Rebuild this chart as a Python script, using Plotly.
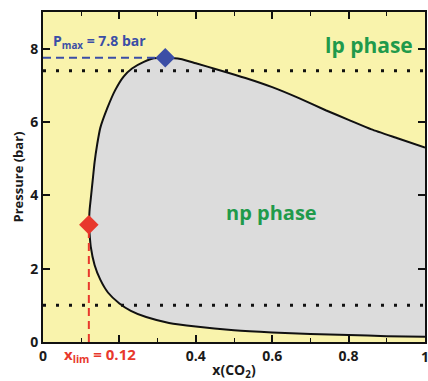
import plotly.graph_objects as go

# Phase boundary, upper branch (left limit -> peak -> right edge)
upper_x = [0.12, 0.122, 0.126, 0.13, 0.135, 0.142, 0.150, 0.168, 0.189, 0.211, 0.233, 0.264, 0.29, 0.32,
           0.36, 0.40, 0.46, 0.53, 0.60, 0.67, 0.74, 0.80, 0.86, 0.93, 1.0]
upper_P = [3.2, 3.6, 4.0, 4.4, 4.9, 5.4, 5.84, 6.37, 6.87, 7.24, 7.46, 7.64, 7.74, 7.75,
           7.72, 7.6, 7.42, 7.2, 6.95, 6.65, 6.32, 6.06, 5.8, 5.55, 5.3]
# lower branch (left limit -> right edge)
lower_x = [0.12, 0.125, 0.135, 0.15, 0.17, 0.2, 0.23, 0.27, 0.33, 0.4, 0.5, 0.6, 0.7, 0.8, 0.9, 1.0]
lower_P = [3.2, 2.6, 2.1, 1.7, 1.35, 1.05, 0.85, 0.68, 0.52, 0.42, 0.32, 0.26, 0.22, 0.19, 0.16, 0.14]

P_max_x, P_max = 0.32, 7.75
x_lim, P_lim = 0.12, 3.2
dotted_levels = [7.4, 1.0]

x_tickvals = [0, 0.2, 0.4, 0.6, 0.8, 1]
x_ticktext = ["0", "", "0.4", "0.6", "0.8", "1"]
y_tickvals = [0, 2, 4, 6, 8]

YELLOW = "#F9F3AC"
GRAY = "#DCDCDC"
GREEN = "#1F9A4B"
BLUE = "#3B4EA6"
RED = "#E8382C"
FONT = "Open Sans"

fig = go.Figure()

fig.add_trace(go.Scatter(
    x=lower_x, y=lower_P, mode="lines",
    line=dict(color="#111111", width=2, shape="spline", smoothing=0.5),
    hoverinfo="skip", showlegend=False))
fig.add_trace(go.Scatter(
    x=upper_x, y=upper_P, mode="lines", fill="tonexty", fillcolor=GRAY,
    line=dict(color="#111111", width=2, shape="spline", smoothing=0.5),
    hoverinfo="skip", showlegend=False))

for lv in dotted_levels:
    fig.add_trace(go.Scatter(
        x=[0, 1], y=[lv, lv], mode="lines",
        line=dict(color="#111111", width=3, dash="3px,10px"),
        showlegend=False, hoverinfo="skip"))

# dashed guide lines
fig.add_trace(go.Scatter(x=[0, P_max_x], y=[P_max, P_max], mode="lines",
                         line=dict(color=BLUE, width=2, dash="8px,5px"),
                         showlegend=False, hoverinfo="skip"))
fig.add_trace(go.Scatter(x=[x_lim, x_lim], y=[0, P_lim], mode="lines",
                         line=dict(color=RED, width=2, dash="8px,5px"),
                         showlegend=False, hoverinfo="skip"))

fig.add_trace(go.Scatter(x=[P_max_x], y=[P_max], mode="markers",
                         marker=dict(symbol="diamond", size=15, color=BLUE),
                         showlegend=False))
fig.add_trace(go.Scatter(x=[x_lim], y=[P_lim], mode="markers",
                         marker=dict(symbol="diamond", size=15, color=RED),
                         showlegend=False))

fig.add_annotation(x=0.02, y=8.2, xanchor="left", yanchor="middle", showarrow=False,
                   text="<b>P<sub>max</sub> = 7.8 bar</b>",
                   font=dict(family=FONT, size=14, color=BLUE))
fig.add_annotation(x=0.853, y=8.1, showarrow=False, text="<b>lp phase</b>",
                   font=dict(family=FONT, size=21, color=GREEN))
fig.add_annotation(x=0.597, y=3.52, showarrow=False, text="<b>np phase</b>",
                   font=dict(family=FONT, size=20, color=GREEN))
fig.add_annotation(x=0.15, xref="x", y=-0.04, yref="paper", yanchor="middle",
                   showarrow=False, text="<b>x<sub>lim</sub> = 0.12</b>",
                   font=dict(family=FONT, size=15, color=RED))
# last x tick label sits on the right page edge (partly cut in the reference)
fig.add_annotation(x=x_tickvals[-1], xref="x", y=-0.008, yref="paper", yanchor="top",
                   xanchor="center", showarrow=False, text=f"<b>{x_ticktext[-1]}</b>",
                   font=dict(family=FONT, size=14, color="#1a1a1a"))

fig.update_layout(
    width=428, height=381,
    margin=dict(l=43, r=3, t=12, b=39, autoexpand=False),
    paper_bgcolor="white", plot_bgcolor=YELLOW,
    font=dict(family=FONT, size=14, color="#1a1a1a"),
    showlegend=False,
)
fig.update_xaxes(
    range=[0, 1], tickvals=x_tickvals, ticktext=[f"<b>{t}</b>" if t else "" for t in x_ticktext],
    ticks="inside", ticklen=7, tickwidth=1.5, tickcolor="#111",
    minor=dict(dtick=0.1, ticks="inside", ticklen=4, tickwidth=1.2, tickcolor="#111"),
    showline=True, linewidth=2, linecolor="#111", mirror="ticks",
    showgrid=False, zeroline=False,
    title=dict(text="<b>x(CO<sub>2</sub>)</b>", standoff=2, font=dict(size=14)),
)
fig.update_yaxes(
    range=[0, 9], tickvals=y_tickvals, ticktext=[f"<b>{v}</b>" for v in y_tickvals],
    ticks="inside", ticklen=7, tickwidth=1.5, tickcolor="#111",
    showline=True, linewidth=2, linecolor="#111", mirror="ticks",
    showgrid=False, zeroline=False,
    title=dict(text="<b>Pressure (bar)</b>", standoff=4, font=dict(size=13)),
)

fig.write_html(
    "out.html",
    config={"displayModeBar": False},
    post_script="document.body.style.margin='0';document.body.style.overflow='hidden';",
)
